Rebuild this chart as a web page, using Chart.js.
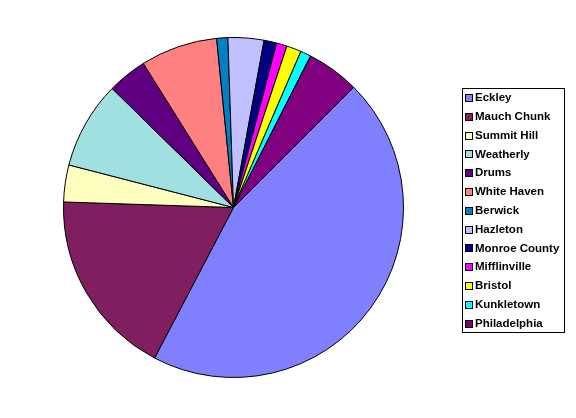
<!DOCTYPE html>
<html lang="en">
<head>
  <meta charset="UTF-8">
  <title>Pie chart</title>
  <script src="https://cdn.jsdelivr.net/npm/chart.js"></script>
  <style>
    html, body { margin: 0; padding: 0; background: #fff; }
    #wrap { width: 576px; height: 418px; }
  </style>
</head>
<body>
  <div id="wrap"><canvas id="pie" width="576" height="418"></canvas></div>
  <script>
    // data (percent of total)
    const places = ['Eckley', 'Mauch Chunk', 'Summit Hill', 'Weatherly', 'Drums', 'White Haven',
      'Berwick', 'Hazleton', 'Monroe County', 'Mifflinville', 'Bristol', 'Kunkletown', 'Philadelphia'];
    const shares = [45.1, 17.8, 3.5, 8.3, 3.75, 7.3, 1.06, 3.4, 1.2, 1.0, 1.4, 1.0, 5.0];
    const colours = ['#8080ff', '#7f1f5f', '#ffffc0', '#a0e0e0', '#600080', '#ff8080',
      '#0080c0', '#c0c0ff', '#000080', '#ff00ff', '#ffff00', '#00ffff', '#800080'];

    // legend drawn in a box at the right side
    const boxLegend = {
      id: 'boxLegend',
      afterDraw(chart) {
        const c = chart.ctx;
        const labels = chart.data.labels;
        const cols = chart.data.datasets[0].backgroundColor;
        c.save();
        c.strokeStyle = '#000';
        c.lineWidth = 1;
        c.strokeRect(462.5, 88.5, 102, 244);
        c.font = 'bold 11.5px "Liberation Sans", Arial, sans-serif';
        c.textBaseline = 'middle';
        labels.forEach((lab, i) => {
          const y = 98 + i * 18.8;
          c.fillStyle = cols[i];
          c.fillRect(465.5, Math.round(y) - 3.5, 7, 7);
          c.strokeRect(465.5, Math.round(y) - 3.5, 7, 7);
          c.fillStyle = '#000';
          c.fillText(lab, 475, y);
        });
        c.restore();
      }
    };

    new Chart(document.getElementById('pie'), {
      type: 'pie',
      data: {
        labels: places,
        datasets: [{
          data: shares,
          backgroundColor: colours,
          borderColor: '#000',
          borderWidth: 1
        }]
      },
      options: {
        responsive: false,
        animation: false,
        rotation: 45,
        layout: { padding: { left: 63, right: 172, top: 37, bottom: 40 } },
        plugins: {
          legend: { display: false },
          tooltip: { enabled: false }
        }
      },
      plugins: [boxLegend]
    });
  </script>
</body>
</html>
